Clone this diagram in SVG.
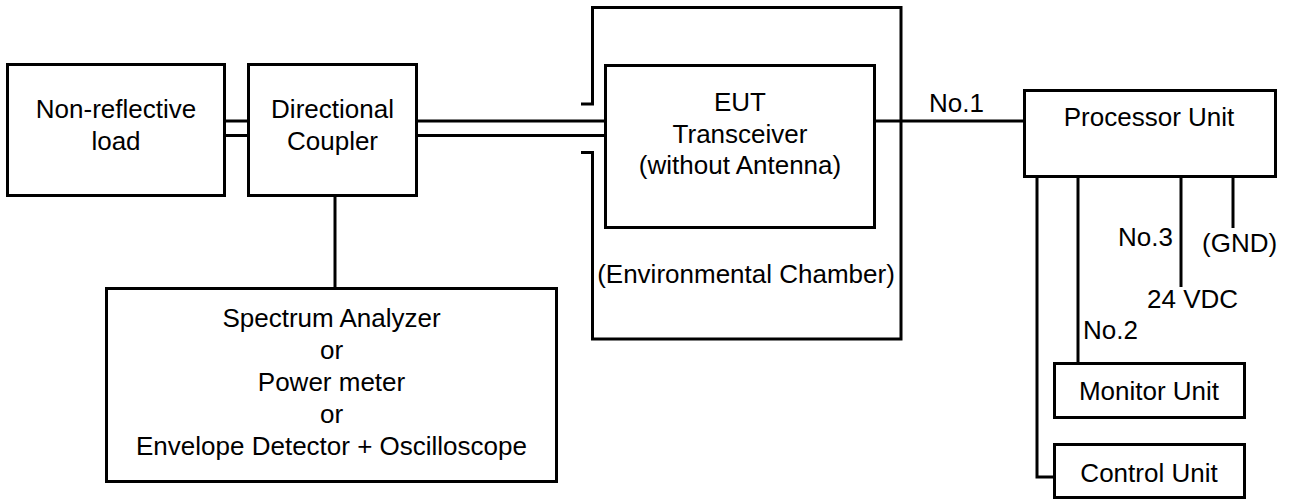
<svg xmlns="http://www.w3.org/2000/svg" width="1289" height="500" viewBox="0 0 1289 500">
<style>
.box{fill:#fff;stroke:#000;stroke-width:3}
.ln{fill:none;stroke:#000;stroke-width:3}
text{font-family:"Liberation Sans",Arial,sans-serif;font-size:26px;fill:#000}
.c{text-anchor:middle}
</style>
<rect width="1289" height="500" fill="#fff"/>
<g id="connectors">
<line class="ln" x1="224" y1="121" x2="249" y2="121"/>
<line class="ln" x1="224" y1="135.5" x2="249" y2="135.5"/>
<line class="ln" x1="416" y1="121" x2="606" y2="121"/>
<line class="ln" x1="416" y1="135.5" x2="606" y2="135.5"/>
<line class="ln" x1="335" y1="196" x2="335" y2="289"/>
<line class="ln" x1="874" y1="121" x2="1025" y2="121"/>
<polyline class="ln" points="1037,176 1037,477 1055,477"/>
<line class="ln" x1="1078" y1="176" x2="1078" y2="364"/>
<line class="ln" x1="1181" y1="176" x2="1181" y2="287"/>
<line class="ln" x1="1233" y1="176" x2="1233" y2="228"/>
<text x="929" y="112">No.1</text>
<text x="1173" y="246" text-anchor="end">No.3</text>
<text x="1202" y="252">(GND)</text>
<text x="1147" y="308">24 VDC</text>
<text x="1083" y="339">No.2</text>
</g>
<g id="chamber">
<path class="ln" d="M581,104 H592.5 V7.5 H901 V339 H592.5 V152.5 H581"/>
<text class="c" x="746" y="283">(Environmental Chamber)</text>
</g>
<g id="load">
<rect class="box" x="7.5" y="64.5" width="217" height="131"/>
<text class="c" x="116" y="118">Non-reflective</text>
<text class="c" x="116" y="150">load</text>
</g>
<g id="coupler">
<rect class="box" x="248.5" y="64.5" width="168" height="131"/>
<text class="c" x="332.5" y="118">Directional</text>
<text class="c" x="332.5" y="150">Coupler</text>
</g>
<g id="eut">
<rect class="box" x="605.5" y="65.5" width="269" height="162"/>
<text class="c" x="740" y="111">EUT</text>
<text class="c" x="740" y="143">Transceiver</text>
<text class="c" x="740" y="174">(without Antenna)</text>
</g>
<g id="analyzer">
<rect class="box" x="106.5" y="288.5" width="450" height="193"/>
<text class="c" x="331.5" y="327">Spectrum Analyzer</text>
<text class="c" x="331.5" y="359">or</text>
<text class="c" x="331.5" y="391">Power meter</text>
<text class="c" x="331.5" y="423">or</text>
<text class="c" x="331.5" y="455">Envelope Detector + Oscilloscope</text>
</g>
<g id="processor">
<rect class="box" x="1024.5" y="90.5" width="251" height="86"/>
<text class="c" x="1149" y="126">Processor Unit</text>
</g>
<g id="monitor">
<rect class="box" x="1054.5" y="363.5" width="190" height="54"/>
<text class="c" x="1149" y="400">Monitor Unit</text>
</g>
<g id="control">
<rect class="box" x="1054.5" y="444.5" width="190" height="53"/>
<text class="c" x="1149" y="482">Control Unit</text>
</g>
</svg>
